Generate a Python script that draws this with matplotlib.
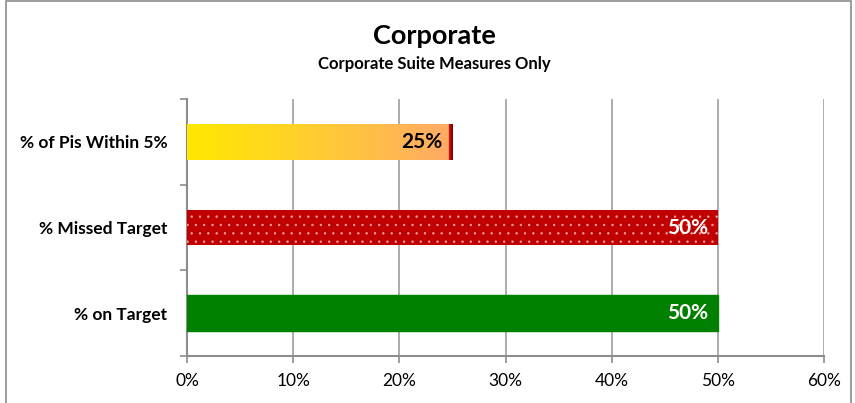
import matplotlib.pyplot as plt
import numpy as np
from matplotlib.colors import LinearSegmentedColormap
from matplotlib.patches import Rectangle
from matplotlib.ticker import PercentFormatter, FixedLocator

plt.rcParams['font.family'] = ['Lato', 'DejaVu Sans']
plt.rcParams['hatch.linewidth'] = 0.5

categories = ['% on Target', '% Missed Target', '% of Pis Within 5%']
values = [50, 50, 25]
labels = ['50%', '50%', '25%']
label_colors = ['white', 'white', 'black']

fig = plt.figure(figsize=(8.55, 4.03), dpi=100)
ax = fig.add_axes([187 / 855, 1 - 356 / 403, (824 - 187) / 855, (356 - 99) / 403])

# outer chart border
fig.patches.append(Rectangle((6 / 855, -0.1), 845 / 855, 1.1 - 1.5 / 403, transform=fig.transFigure,
                             fill=False, edgecolor='#8C8C8C', lw=1.2))

y = np.arange(len(categories))
h = 0.42
bars = ax.barh(y, values, height=h, zorder=3)
bars[0].set_color('#008000')
bars[1].set_facecolor('#C00000')
bars[1].set_edgecolor('#F4A0A0')
bars[1].set_hatch('..')
bars[1].set_linewidth(0)

# gradient bar
b = bars[2]
b.set_facecolor('none')
b.set_edgecolor('none')
cmap = LinearSegmentedColormap.from_list('g', [(0, '#FFE800'), (0.5, '#FFCC33'), (0.985, '#FFAA66'),
                                              (0.988, '#D01010'), (1, '#800000')])
grad = np.linspace(0, 1, 512).reshape(1, -1)
im = ax.imshow(grad, cmap=cmap, aspect='auto', zorder=3,
               extent=[0, values[2], y[2] - h / 2, y[2] + h / 2])
im.set_clip_path(b)

for yi, v, lab, c in zip(y, values, labels, label_colors):
    ax.annotate(lab, (v, yi), xytext=(-7, 0), textcoords='offset points', ha='right', va='center',
                fontsize=15, fontweight='bold', color=c, zorder=5)

ax.set_xlim(0, 60)
ax.set_ylim(-0.5, 2.5)
ax.set_xticks(range(0, 61, 10))
ax.xaxis.set_major_formatter(PercentFormatter(decimals=0))
ax.set_yticks(y)
ax.set_yticklabels(categories, fontsize=12.5, fontweight='bold')
ax.yaxis.set_minor_locator(FixedLocator([-0.5, 0.5, 1.5, 2.5]))
ax.tick_params(axis='y', which='major', length=0, pad=14)
ax.tick_params(axis='y', which='minor', length=5, color='#8C8C8C', width=1.2)
ax.tick_params(axis='x', length=5, color='#8C8C8C', width=1.2, labelsize=12.5, pad=7)

ax.grid(axis='x', color='#A6A6A6', lw=1.3, zorder=0)
for s in ['top', 'right']:
    ax.spines[s].set_visible(False)
for s in ['left', 'bottom']:
    ax.spines[s].set_color('#8C8C8C')
    ax.spines[s].set_linewidth(1.5)

fig.text(434 / 855, 1 - 36 / 403, 'Corporate', ha='center', va='center', fontsize=19.5, fontweight='bold')
fig.text(434 / 855, 1 - 64 / 403, 'Corporate Suite Measures Only', ha='center', va='center',
         fontsize=12, fontweight='bold')

fig.savefig('out.png', dpi=100)
